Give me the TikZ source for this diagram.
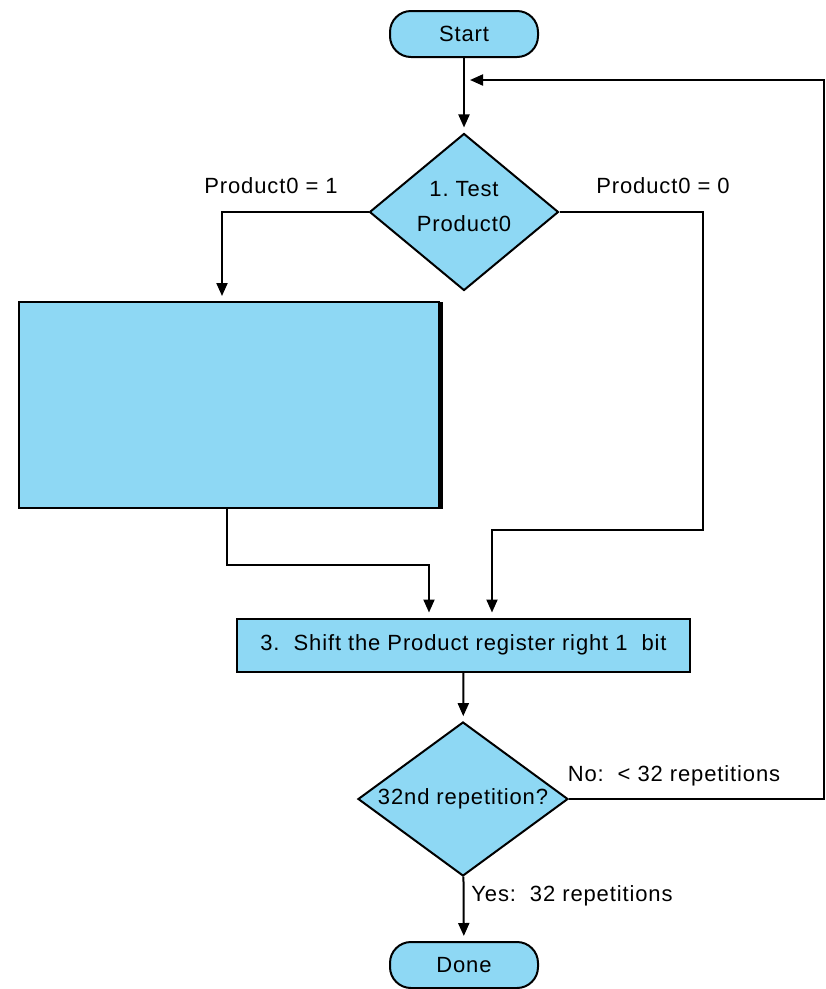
\documentclass[tikz,border=0pt]{standalone}
\usepackage{fontspec}
\setmainfont{Liberation Sans}[LetterSpace=4]
\usetikzlibrary{shapes.geometric,arrows.meta}
\definecolor{boxblue}{RGB}{142,216,244}

\begin{document}
\begin{tikzpicture}[x=1pt,y=-1pt,
  every node/.style={font=\fontsize{22}{35}\selectfont},
  shapebase/.style={draw=black, line width=2pt, fill=boxblue, inner sep=0pt},
  terminal/.style={shapebase, rectangle, rounded corners=21pt, minimum width=148pt, minimum height=46pt},
  process/.style={shapebase, rectangle},
  decision/.style={shapebase, diamond, align=center},
  link/.style={line width=2pt},
  flow/.style={link, -{Triangle[length=13pt,width=11pt]}, shorten >=5pt},
  txt/.style={inner sep=0pt}
]
\useasboundingbox (0,0) rectangle (826,989);

% shapes
\node[terminal] (start) at (464,34) {Start};
\node[decision, aspect=1.2, minimum width=189pt, minimum height=157pt] (d1) at (464,212) {1.\ Test\\Product0\\[-23pt]};
\node[process, minimum width=420pt, minimum height=206pt] (step2) at (229,405) {};
\draw[line width=3pt] ([xshift=1pt,yshift=-1pt]step2.north east) -- ([xshift=1pt]step2.south east);
\node[process, minimum width=453pt, minimum height=53pt] (step3) at (463.5,645) {3.\ \ Shift the Product register right 1\ \ bit};
\node[decision, aspect=1.36, minimum width=210pt, minimum height=154pt] (d2) at (463,799) {32nd repetition?};
\node[terminal] (done) at (464,965) {Done};

% bend points
\coordinate (rtop) at (703,212);
\coordinate (rbot) at (703,530);
\coordinate (loopdn) at (824,799);
\coordinate (loopup) at (824,80);
\coordinate (loopin) at (470,80);

% connectors
\draw[flow] (start) -- (d1);
\draw[flow] (d1.west) -| ([xshift=-7pt]step2.north);
\draw[flow] (d1.east) -- (rtop) -- (rbot) -| ([xshift=28.5pt]step3.north);
\draw[flow] ([xshift=-2pt]step2.south) -- ++(0,56) -| ([xshift=-34.5pt]step3.north);
\draw[flow] (step3) -- (d2);
\draw[flow] (d2) -- (done);
\draw[link, -{Triangle[length=13pt,width=11pt]}] (d2.east) -- (loopdn) -- (loopup) -- (loopin);

% branch labels
\node[txt] (p1) at (271,186) {Product0 = 1};
\node[txt] (p0) at (663,186) {Product0 = 0};
\node[txt] (no) at (674,776) {No:\ \ < 32 repetitions};
\node[txt] (yes) at (572,896) {Yes:\ \ 32 repetitions};
\end{tikzpicture}
\end{document}
